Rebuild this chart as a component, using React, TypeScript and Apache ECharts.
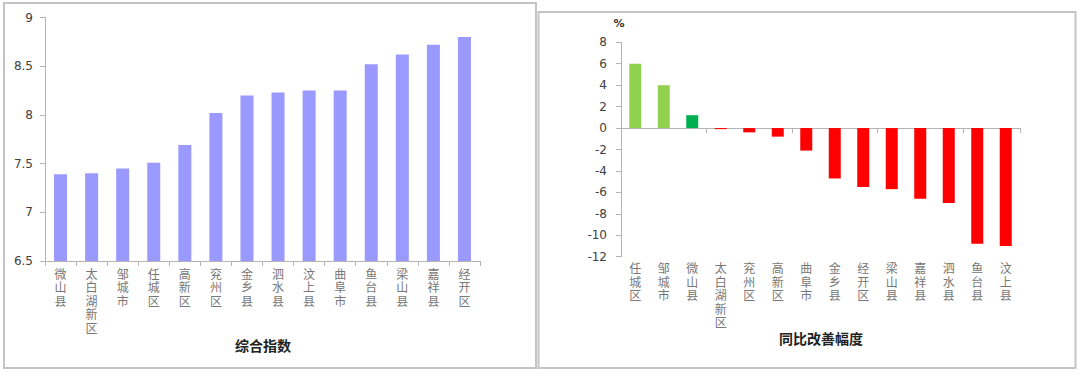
import React, { useEffect, useRef } from "react";
import * as echarts from "echarts";

const leftCategories = ["微山县", "太白湖新区", "邹城市", "任城区", "高新区", "兖州区", "金乡县", "泗水县", "汶上县", "曲阜市", "鱼台县", "梁山县", "嘉祥县", "经开区"];
const leftValues = [7.39, 7.40, 7.45, 7.51, 7.69, 8.02, 8.20, 8.23, 8.25, 8.25, 8.52, 8.62, 8.72, 8.80];

const rightCategories = ["任城区", "邹城市", "微山县", "太白湖新区", "兖州区", "高新区", "曲阜市", "金乡县", "经开区", "梁山县", "嘉祥县", "泗水县", "鱼台县", "汶上县"];
const rightValues = [6.0, 4.0, 1.2, -0.1, -0.4, -0.8, -2.1, -4.7, -5.5, -5.7, -6.6, -7.0, -10.8, -11.0];
const rightColors = ["#92D050", "#92D050", "#00B050", "#FF0000", "#FF0000", "#FF0000", "#FF0000", "#FF0000", "#FF0000", "#FF0000", "#FF0000", "#FF0000", "#FF0000", "#FF0000"];

const leftTitle = "综合指数";
const rightTitle = "同比改善幅度";
const rightUnit = "%";

const axisGrey = "#b4b4b4";
const numFont = "DejaVu Sans";
const cjkFont = "Noto Sans CJK SC";
const labelFont = "'Liberation Serif', 'Noto Sans CJK SC'";

const vertical = (v: string) => v.split("").join("\n");

export default function App() {
  const ref = useRef<HTMLDivElement>(null);
  useEffect(() => {
    if (!ref.current) return;
    const chart = echarts.init(ref.current, undefined, { renderer: "svg" });
    chart.setOption({
      animation: false,
      backgroundColor: "#ffffff",
      grid: [
        { left: 45, top: 17.5, width: 435, height: 243.5 },
        { left: 621, top: 42.3, width: 399, height: 214.4 },
      ],
      xAxis: [
        {
          type: "category",
          gridIndex: 0,
          data: leftCategories,
          axisLine: { lineStyle: { color: axisGrey, width: 1 } },
          axisTick: { show: true, length: 5, lineStyle: { color: axisGrey } },
          axisLabel: {
            interval: 0,
            margin: 7,
            formatter: vertical,
            fontFamily: labelFont,
            fontSize: 12,
            lineHeight: 13.5,
            color: "#777777",
            verticalAlign: "top",
          },
        },
        {
          type: "category",
          gridIndex: 1,
          data: rightCategories,
          axisLine: { onZero: true, lineStyle: { color: axisGrey, width: 1 } },
          axisTick: { show: true, length: 5, lineStyle: { color: axisGrey } },
          axisLabel: { show: false },
        },
        {
          type: "category",
          gridIndex: 1,
          data: rightCategories,
          position: "bottom",
          axisLine: { show: false, onZero: false },
          axisTick: { show: false },
          axisLabel: {
            interval: 0,
            margin: 6,
            formatter: vertical,
            fontFamily: labelFont,
            fontSize: 12,
            lineHeight: 13.5,
            color: "#777777",
            verticalAlign: "top",
          },
        },
      ],
      yAxis: [
        {
          type: "value",
          gridIndex: 0,
          min: 6.5,
          max: 9,
          interval: 0.5,
          splitLine: { show: false },
          axisLine: { show: true, lineStyle: { color: axisGrey } },
          axisTick: { show: true, length: 5, lineStyle: { color: axisGrey } },
          axisLabel: { margin: 12, fontFamily: numFont, fontSize: 12, color: "#404040" },
        },
        {
          type: "value",
          gridIndex: 1,
          min: -12,
          max: 8,
          interval: 2,
          splitLine: { show: false },
          axisLine: { show: true, lineStyle: { color: axisGrey } },
          axisTick: { show: true, length: 5, lineStyle: { color: axisGrey } },
          axisLabel: { margin: 14, fontFamily: numFont, fontSize: 12, color: "#404040" },
        },
      ],
      series: [
        {
          type: "bar",
          xAxisIndex: 0,
          yAxisIndex: 0,
          data: leftValues,
          barWidth: 13,
          itemStyle: { color: "#9999FF" },
        },
        {
          type: "bar",
          xAxisIndex: 1,
          yAxisIndex: 1,
          data: rightValues.map((v, i) => ({ value: v, itemStyle: { color: rightColors[i] } })),
          barWidth: 12,
        },
      ],
      graphic: [
        {
          type: "rect",
          shape: { x: 4, y: 3, width: 532, height: 365 },
          style: { fill: "none", stroke: "#c4c4c4", lineWidth: 2 },
          silent: true,
        },
        {
          type: "rect",
          shape: { x: 538.5, y: 12, width: 537, height: 356 },
          style: { fill: "none", stroke: "#c4c4c4", lineWidth: 2 },
          silent: true,
        },
        {
          type: "text",
          x: 263,
          y: 345,
          style: {
            text: leftTitle,
            fontFamily: cjkFont,
            fontSize: 14,
            fontWeight: "bold",
            fill: "#222222",
            align: "center",
            verticalAlign: "middle",
          },
        },
        {
          type: "text",
          x: 821,
          y: 338,
          style: {
            text: rightTitle,
            fontFamily: cjkFont,
            fontSize: 14,
            fontWeight: "bold",
            fill: "#222222",
            align: "center",
            verticalAlign: "middle",
          },
        },
        {
          type: "text",
          x: 619,
          y: 23,
          style: {
            text: rightUnit,
            fontFamily: numFont,
            fontSize: 11,
            fontWeight: "bold",
            fill: "#333333",
            align: "center",
            verticalAlign: "middle",
          },
        },
      ],
    });
    return () => chart.dispose();
  }, []);
  return (
    <div style={{ position: "fixed", left: 0, top: 0, width: 1080, height: 376, background: "#fff" }}>
      <div ref={ref} style={{ width: 1080, height: 376 }} />
    </div>
  );
}
